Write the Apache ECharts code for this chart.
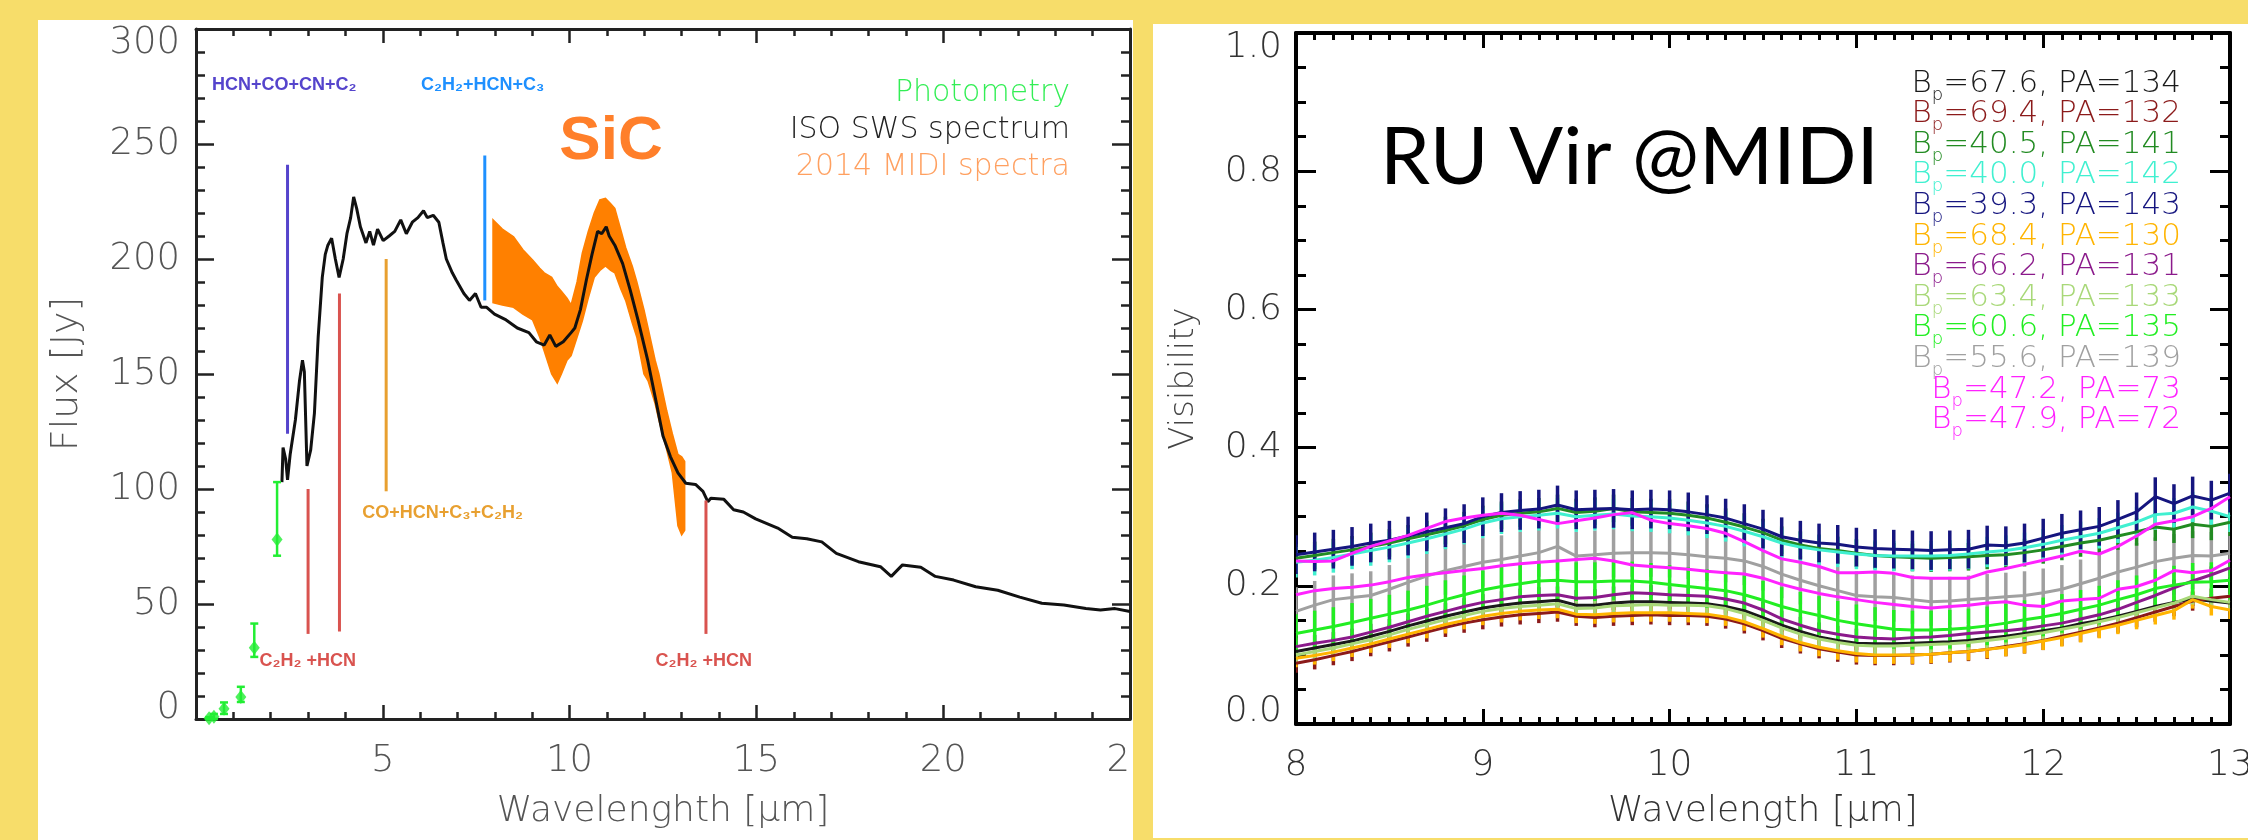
<!DOCTYPE html>
<html>
<head>
<meta charset="utf-8">
<script src="https://cdn.jsdelivr.net/npm/echarts@6/dist/echarts.min.js"></script>
<style>
  html, body { margin: 0; padding: 0; width: 2248px; height: 840px; background: #f7dd6a; overflow: hidden; }
  .panel { position: absolute; background: #fff; overflow: hidden; }
  #left { left: 38px; top: 20px; width: 1095px; height: 820px; }
  #right { left: 1153px; top: 24px; width: 1095px; height: 814px; }
  .chart { position: absolute; left: 0; top: 0; width: 1095px; height: 820px; }
</style>
</head>
<body>
<div class="panel" id="left"><div class="chart" id="leftChart"></div></div>
<div class="panel" id="right"><div class="chart" id="rightChart"></div></div>
<script>
// ---------- left panel: SED ----------
const isoWave = [2.30, 2.33, 2.40, 2.45, 2.52, 2.66, 2.77, 2.85, 2.90, 2.97, 3.07, 3.17, 3.27, 3.38, 3.46, 3.53, 3.63, 3.73, 3.83, 3.94,
  4.04, 4.14, 4.22, 4.30, 4.40, 4.55, 4.65, 4.75, 4.86, 5.01, 5.17, 5.32, 5.48, 5.63, 5.79, 5.94, 6.09, 6.19, 6.35, 6.50,
  6.61, 6.70, 6.86, 6.96, 7.17, 7.32, 7.48, 7.63, 7.78, 7.99, 8.30, 8.60, 8.91, 9.11, 9.32, 9.47, 9.63, 9.83, 10.04, 10.14,
  10.29, 10.45, 10.60, 10.75, 10.86, 10.98, 11.06, 11.21, 11.42, 11.63, 11.83, 12.09, 12.29, 12.50, 12.70, 12.90, 13.11, 13.37, 13.57, 13.70,
  13.78, 14.13, 14.39, 14.65, 14.98, 15.57, 15.96, 16.35, 16.75, 17.14, 17.73, 18.32, 18.61, 18.91, 19.40, 19.79, 20.28, 20.87, 21.46, 22.05,
  22.64, 23.23, 23.82, 24.21, 24.60, 25.00];
const isoFlux = [103, 118, 113, 104, 115, 130, 147, 156, 151, 110, 117, 133, 166, 192, 202, 206, 209, 200, 192, 200,
  211, 218, 227, 222, 214, 207, 212, 206, 213, 208, 210, 212, 217, 211, 216, 218, 221, 218, 219, 216,
  207, 200, 194, 191, 185, 182, 185, 179, 179, 176, 173.5, 170, 168, 164, 162.6, 167, 162, 164, 168, 170,
  178, 191, 202, 212, 211, 214, 210, 206, 198, 186, 173.5, 156, 140, 123, 114, 107, 102.5, 102, 99, 94.5,
  96, 95.5, 91, 90, 87, 83, 79, 78.4, 77, 72, 68.4, 66.2, 62, 67, 66, 62, 60.4, 57.5, 56, 53,
  50.3, 49.6, 48, 47.4, 48, 46.7];

const midiWave = [7.95, 8.20, 8.50, 8.75, 9.01, 9.20, 9.32, 9.52, 9.67, 9.78, 9.93, 10.04, 10.20, 10.34, 10.50, 10.66, 10.81, 10.96,
  11.10, 11.21, 11.37, 11.50, 11.68, 11.80, 11.99, 12.10, 12.29, 12.39, 12.60, 12.75, 12.90, 13.00, 13.08];
const midiLow = [181, 180, 179, 176, 173.5, 166, 160, 150, 146, 150, 156, 158, 166, 173, 183, 192, 195, 197,
  195, 194, 187, 182, 172, 166, 150, 147, 137, 130, 117, 107, 84, 80, 82];
const midiHigh = [217, 213, 209.7, 204, 199.6, 196, 194, 192, 188, 186, 183, 180, 190, 202.5, 212, 220, 225.7, 226.4,
  224, 222, 212.7, 205, 196.8, 190, 178, 170, 156, 150, 134, 124, 115, 114, 112];

const photWave = [0.35, 0.48, 0.75, 1.20, 1.56, 2.17];
const photFlux = [0.3, 1.0, 4.5, 9.6, 31, 78];
const photLow = [0, 0, 2.2, 7.4, 27, 71];
const photHigh = [0.8, 2.2, 7.2, 14, 41.5, 103];

const markWave = [2.45, 3.00, 3.84, 5.09, 7.73, 13.65];
const markFrom = [124, 37, 38, 99, 182, 37];
const markTo = [241, 100, 185, 200, 245, 95];
const markColor = ['#5544cc', '#d9534f', '#d9534f', '#e8a030', '#1e90ff', '#d9534f'];

const noteText = ['HCN+CO+CN+C\u2082', 'C\u2082H\u2082+HCN+C\u2083', 'CO+HCN+C\u2083+C\u2082H\u2082', 'C\u2082H\u2082 +HCN', 'C\u2082H\u2082 +HCN'];
const noteWave = [0.43, 6.02, 4.45, 1.70, 12.30];
const noteFlux = [275.6, 275.6, 89.6, 25, 25];
const noteColor = ['#5544cc', '#1e90ff', '#e8a030', '#d9534f', '#d9534f'];

// ---------- right panel: visibilities ----------
const wave = [8.0, 8.1, 8.2, 8.3, 8.4, 8.5, 8.6, 8.7, 8.8, 8.9, 9.0, 9.1, 9.2, 9.3, 9.4, 9.5, 9.6, 9.7, 9.8, 9.9,
  10.0, 10.1, 10.2, 10.3, 10.4, 10.5, 10.6, 10.7, 10.8, 10.9, 11.0, 11.1, 11.2, 11.3, 11.4, 11.5, 11.6, 11.7, 11.8, 11.9,
  12.0, 12.1, 12.2, 12.3, 12.4, 12.5, 12.6, 12.7, 12.8, 12.9, 13.0];

const v676 = [.105, .110, .115, .120, .127, .134, .142, .149, .156, .162, .168, .172, .175, .177, .179, .172, .172, .175, .177, .177,
  .176, .175, .174, .170, .164, .154, .143, .134, .126, .121, .117, .116, .116, .117, .118, .119, .121, .124, .127, .131,
  .135, .139, .145, .150, .156, .163, .170, .176, .181, .178, .175];
const v694 = [.088, .093, .099, .105, .112, .119, .126, .133, .140, .146, .151, .155, .158, .160, .162, .156, .154, .156, .157, .158,
  .157, .157, .156, .152, .145, .135, .124, .116, .109, .104, .100, .099, .099, .100, .101, .103, .105, .108, .112, .116,
  .121, .127, .133, .139, .146, .154, .162, .170, .178, .182, .185];
const v405 = [.240, .244, .248, .252, .257, .262, .268, .274, .280, .287, .296, .302, .305, .307, .312, .306, .308, .312, .307, .306,
  .305, .302, .298, .292, .285, .277, .266, .259, .254, .251, .247, .244, .242, .241, .240, .241, .242, .244, .245, .248,
  .252, .257, .262, .266, .272, .278, .285, .282, .289, .286, .292];
const v400 = [.234, .237, .241, .246, .251, .256, .262, .268, .275, .282, .291, .297, .300, .302, .305, .300, .302, .304, .301, .300,
  .298, .295, .291, .286, .279, .271, .262, .256, .252, .249, .246, .244, .243, .243, .243, .244, .246, .249, .251, .255,
  .260, .266, .271, .276, .284, .292, .303, .305, .314, .308, .300];
const v393 = [.245, .249, .253, .257, .262, .266, .272, .278, .284, .290, .300, .306, .309, .311, .317, .310, .311, .312, .310, .311,
  .310, .307, .303, .298, .290, .282, .271, .266, .262, .260, .256, .254, .253, .252, .251, .252, .253, .259, .258, .262,
  .269, .276, .281, .286, .296, .307, .329, .319, .330, .324, .334];
const v684 = [.095, .099, .104, .110, .116, .123, .130, .137, .144, .150, .156, .160, .163, .165, .166, .159, .158, .160, .161, .161,
  .161, .160, .159, .155, .148, .138, .127, .118, .111, .106, .102, .100, .100, .100, .101, .103, .105, .108, .111, .115,
  .120, .125, .131, .137, .143, .150, .157, .164, .180, .170, .165];
const v662 = [.112, .117, .121, .126, .133, .140, .148, .156, .163, .170, .176, .180, .184, .186, .187, .182, .183, .187, .190, .189,
  .187, .186, .185, .181, .175, .165, .152, .143, .135, .130, .126, .124, .123, .125, .126, .128, .131, .133, .135, .138,
  .142, .146, .152, .158, .166, .176, .186, .197, .207, .216, .226];
const v634 = [.100, .105, .110, .116, .122, .129, .137, .144, .151, .157, .163, .167, .170, .172, .174, .167, .168, .171, .172, .173,
  .172, .172, .171, .167, .160, .150, .139, .130, .123, .118, .114, .113, .113, .114, .115, .116, .118, .121, .124, .128,
  .132, .137, .142, .148, .154, .161, .168, .175, .185, .180, .176];
const v606 = [.131, .136, .141, .147, .153, .159, .165, .172, .180, .187, .194, .199, .203, .207, .208, .206, .206, .207, .207, .205,
  .202, .199, .196, .193, .187, .179, .170, .163, .157, .150, .145, .141, .137, .136, .136, .137, .139, .142, .146, .151,
  .155, .160, .166, .172, .180, .187, .196, .201, .205, .206, .208];
const v556 = [.163, .172, .180, .183, .186, .195, .205, .214, .222, .228, .234, .238, .243, .248, .257, .243, .245, .247, .248, .248,
  .247, .245, .242, .240, .236, .228, .217, .208, .200, .193, .186, .184, .183, .180, .177, .178, .180, .182, .184, .186,
  .190, .195, .203, .211, .220, .227, .235, .240, .244, .243, .247];
const v472 = [.236, .235, .236, .247, .257, .265, .273, .283, .293, .298, .302, .305, .302, .296, .290, .294, .298, .303, .306, .295,
  .290, .287, .283, .276, .264, .251, .239, .234, .228, .219, .219, .220, .218, .212, .211, .211, .211, .220, .225, .231,
  .237, .243, .250, .246, .257, .272, .289, .294, .300, .312, .329];
const v479 = [.187, .193, .196, .198, .201, .206, .212, .216, .219, .222, .225, .229, .232, .234, .236, .238, .240, .236, .230, .228,
  .226, .224, .221, .219, .217, .211, .202, .195, .189, .184, .180, .176, .173, .170, .168, .170, .172, .175, .177, .172,
  .170, .178, .180, .182, .195, .199, .208, .222, .219, .222, .237];

const visSeries = [v676, v694, v405, v400, v393, v684, v662, v634, v606, v556, v472, v479];
const visErr = [0.010, 0.014, 0.020, 0.022, 0.028, 0.013, 0.012, 0.012, 0.028, 0.035, 0, 0];
const visColor = ['#1a1a1a', '#8b1a1a', '#228b22', '#40f0d0', '#15157f', '#ffb400', '#8b1a8b', '#a8d878', '#22ee22', '#a0a0a0', '#ff22ff', '#ff22ff'];
const legendBp = ['67.6', '69.4', '40.5', '40.0', '39.3', '68.4', '66.2', '63.4', '60.6', '55.6', '47.2', '47.9'];
const legendPA = ['134', '132', '141', '142', '143', '130', '131', '133', '135', '139', '73', '72'];
// drawing order: the grey set sits under the coloured ones, magenta on top
const drawOrder = [9, 0, 1, 2, 3, 4, 5, 6, 7, 8, 10, 11];

const THIN = '"DejaVu Sans", sans-serif';
const BOLD = '"Liberation Sans", Arial, sans-serif';

function frameAxis(o) {
  return {
    type: 'value', min: o.min, max: o.max, interval: o.interval, position: o.position,
    axisLine: { show: true, onZero: false, lineStyle: { color: o.color, width: o.lineWidth } },
    axisTick: { show: true, inside: true, length: o.major, lineStyle: { color: o.color, width: o.tickWidth } },
    minorTick: { show: true, splitNumber: o.split, length: o.minor, lineStyle: { color: o.color, width: o.tickWidth } },
    splitLine: { show: false },
    minorSplitLine: { show: false },
    axisLabel: o.label || { show: false },
    name: o.name || '',
    nameLocation: 'middle',
    nameGap: o.nameGap || 0,
    nameRotate: o.nameRotate,
    nameMoveOverlap: false,
    nameTextStyle: o.nameStyle
  };
}

function labelRich(size, color, top, bottom) {
  const base = { fontSize: size, color: color, fontFamily: THIN, fontWeight: 200 };
  return {
    n: base,
    hi: Object.assign({}, base, { padding: [top, 0, 0, 0] }),
    lo: Object.assign({}, base, { padding: [0, 0, bottom, 0] })
  };
}

// ---- left chart ----
const leftChart = echarts.init(document.getElementById('leftChart'));
const lc = '#222';
leftChart.setOption({
  animation: false,
  grid: { left: 158, top: 9, width: 934, height: 690, containLabel: false, outerBoundsMode: 'none' },
  xAxis: [
    frameAxis({ min: 0, max: 25, interval: 5, position: 'bottom', color: lc, lineWidth: 3, tickWidth: 2.5, major: 14, minor: 7, split: 5,
      label: { showMinLabel: false, margin: 24, fontSize: 37, color: '#555', fontFamily: THIN, fontWeight: 200 },
      name: 'Wavelenghth [\u03bcm]', nameGap: 75,
      nameStyle: { fontSize: 36, color: '#555', fontFamily: THIN, fontWeight: 200 } }),
    frameAxis({ min: 0, max: 25, interval: 5, position: 'top', color: lc, lineWidth: 3, tickWidth: 2.5, major: 14, minor: 7, split: 5 })
  ],
  yAxis: [
    frameAxis({ min: 0, max: 300, interval: 50, position: 'left', color: lc, lineWidth: 3, tickWidth: 2.5, major: 18, minor: 9, split: 5,
      label: { margin: 16, formatter: v => v === 300 ? '{hi|300}' : (v === 0 ? '{lo|0}' : '{n|' + v + '}'),
        rich: labelRich(37, '#555', 28, 22) },
      name: 'Flux [Jy]', nameGap: 110,
      nameStyle: { fontSize: 38, color: '#555', fontFamily: THIN, fontWeight: 200 } }),
    frameAxis({ min: 0, max: 300, interval: 50, position: 'right', color: lc, lineWidth: 3, tickWidth: 2.5, major: 18, minor: 9, split: 5 })
  ],
  graphic: [
    { type: 'text', x: 1032, y: 73, style: { text: 'Photometry', fill: '#33ee55', fontSize: 30, fontFamily: THIN, fontWeight: 200, align: 'right', verticalAlign: 'middle' } },
    { type: 'text', x: 1032, y: 110, style: { text: 'ISO SWS spectrum', fill: '#222', fontSize: 30, fontFamily: THIN, fontWeight: 200, align: 'right', verticalAlign: 'middle' } },
    { type: 'text', x: 1032, y: 147, style: { text: '2014 MIDI spectra', fill: '#ffa060', fontSize: 30, fontFamily: THIN, fontWeight: 200, align: 'right', verticalAlign: 'middle' } },
    { type: 'text', x: 573, y: 122, style: { text: 'SiC', fill: '#ff7f2a', fontSize: 62, fontFamily: BOLD, fontWeight: 'bold', align: 'center', verticalAlign: 'middle' } }
  ],
  series: [
    {
      type: 'custom', name: 'MIDI', xAxisIndex: 0, yAxisIndex: 0, clip: true, z: 2,
      data: midiWave.map((w, i) => [w, midiLow[i], midiHigh[i]]),
      encode: { x: 0, y: [1, 2] },
      renderItem: (p, api) => {
        if (p.dataIndex !== 0) return null;
        const pts = [];
        midiWave.forEach((w, i) => pts.push(api.coord([w, midiHigh[i]])));
        for (let i = midiWave.length - 1; i >= 0; i--) pts.push(api.coord([midiWave[i], midiLow[i]]));
        return { type: 'polygon', shape: { points: pts }, style: { fill: '#ff8000', stroke: '#ff8000', lineWidth: 1.5 } };
      }
    },
    {
      type: 'line', name: 'ISO SWS', xAxisIndex: 0, yAxisIndex: 0, z: 3,
      data: isoWave.map((w, i) => [w, isoFlux[i]]),
      showSymbol: false, symbol: 'none',
      lineStyle: { color: '#111', width: 3 }
    },
    {
      type: 'custom', name: 'marks', xAxisIndex: 0, yAxisIndex: 0, z: 4,
      data: markWave.map((w, i) => [w, markFrom[i], markTo[i]]),
      encode: { x: 0, y: [1, 2] },
      renderItem: (p, api) => {
        const a = api.coord([api.value(0), api.value(1)]);
        const b = api.coord([api.value(0), api.value(2)]);
        return { type: 'line', shape: { x1: a[0], y1: a[1], x2: b[0], y2: b[1] }, style: { stroke: markColor[p.dataIndex], lineWidth: 3 } };
      }
    },
    {
      type: 'custom', name: 'notes', xAxisIndex: 0, yAxisIndex: 0, z: 4,
      data: noteWave.map((w, i) => [w, noteFlux[i]]),
      encode: { x: 0, y: 1 },
      renderItem: (p, api) => {
        const c = api.coord([api.value(0), api.value(1)]);
        return { type: 'text', x: c[0], y: c[1], style: { text: noteText[p.dataIndex], fill: noteColor[p.dataIndex],
          fontSize: 18, fontWeight: 'bold', fontFamily: BOLD, align: 'left', verticalAlign: 'middle' } };
      }
    },
    {
      type: 'custom', name: 'photErr', xAxisIndex: 0, yAxisIndex: 0, z: 5, clip: false,
      data: photWave.map((w, i) => [w, photLow[i], photHigh[i]]),
      encode: { x: 0, y: [1, 2] },
      renderItem: (p, api) => {
        const x = api.value(0);
        const lo = api.coord([x, api.value(1)]);
        const hi = api.coord([x, api.value(2)]);
        const st = { stroke: '#22ee33', lineWidth: 2.5 };
        return { type: 'group', children: [
          { type: 'line', shape: { x1: lo[0], y1: lo[1], x2: hi[0], y2: hi[1] }, style: st },
          { type: 'line', shape: { x1: lo[0] - 4, y1: lo[1], x2: lo[0] + 4, y2: lo[1] }, style: st },
          { type: 'line', shape: { x1: hi[0] - 4, y1: hi[1], x2: hi[0] + 4, y2: hi[1] }, style: st }
        ] };
      }
    },
    {
      type: 'scatter', name: 'Photometry', xAxisIndex: 0, yAxisIndex: 0, z: 6, clip: false,
      data: photWave.map((w, i) => [w, photFlux[i]]),
      symbol: 'diamond', symbolSize: [11, 14],
      itemStyle: { color: '#22ee33' }
    }
  ]
});

// ---- right chart ----
const rightChart = echarts.init(document.getElementById('rightChart'));
const rc = '#000';
const visSeriesOpts = [];
drawOrder.forEach((k) => {
  const vals = visSeries[k];
  if (visErr[k] > 0) {
    visSeriesOpts.push({
      type: 'custom', xAxisIndex: 0, yAxisIndex: 0, clip: true,
      data: wave.map((w, i) => [w, vals[i] - visErr[k], vals[i] + visErr[k]]),
      encode: { x: 0, y: [1, 2] },
      renderItem: (p, api) => {
        const x = api.value(0);
        const lo = api.coord([x, api.value(1)]);
        const hi = api.coord([x, api.value(2)]);
        return { type: 'line', shape: { x1: lo[0], y1: lo[1], x2: hi[0], y2: hi[1] }, style: { stroke: visColor[k], lineWidth: 3.5 } };
      }
    });
  }
  visSeriesOpts.push({
    type: 'line', xAxisIndex: 0, yAxisIndex: 0,
    data: wave.map((w, i) => [w, vals[i]]),
    showSymbol: false, symbol: 'none',
    lineStyle: { color: visColor[k], width: 3 }
  });
});

const legendGraphics = legendBp.map((bp, i) => {
  const col = visColor[i];
  return {
    type: 'text', x: 1028, y: 44 + i * 30.6,
    style: {
      text: '{b|B}{s|p}{b|=' + bp + ', PA=' + legendPA[i] + '}',
      align: 'right', verticalAlign: 'top',
      rich: {
        b: { fill: col, fontSize: 31, fontFamily: THIN, fontWeight: 200, lineHeight: 31, verticalAlign: 'top' },
        s: { fill: col, fontSize: 18, fontFamily: THIN, fontWeight: 200, lineHeight: 18, padding: [18, 0, 0, 0], verticalAlign: 'top' }
      }
    }
  };
});

rightChart.setOption({
  animation: false,
  grid: { left: 143, top: 9, width: 934, height: 691, containLabel: false, outerBoundsMode: 'none' },
  xAxis: [
    frameAxis({ min: 8, max: 13, interval: 1, position: 'bottom', color: rc, lineWidth: 4, tickWidth: 3, major: 15, minor: 7, split: 10,
      label: { margin: 24, fontSize: 36, color: '#333', fontFamily: THIN, fontWeight: 200 },
      name: 'Wavelength [\u03bcm]', nameGap: 70,
      nameStyle: { fontSize: 36, color: '#333', fontFamily: THIN, fontWeight: 200 } }),
    frameAxis({ min: 8, max: 13, interval: 1, position: 'top', color: rc, lineWidth: 4, tickWidth: 3, major: 15, minor: 7, split: 10 })
  ],
  yAxis: [
    frameAxis({ min: 0, max: 1, interval: 0.2, position: 'left', color: rc, lineWidth: 4, tickWidth: 3, major: 20, minor: 10, split: 4,
      label: { margin: 14, formatter: v => {
          const t = v.toFixed(1);
          return v >= 0.999 ? '{hi|' + t + '}' : (v <= 0.001 ? '{lo|' + t + '}' : '{n|' + t + '}');
        },
        rich: labelRich(36, '#333', 30, 24) },
      name: 'Visibility', nameGap: 95,
      nameStyle: { fontSize: 34, color: '#444', fontFamily: THIN, fontWeight: 200 } }),
    frameAxis({ min: 0, max: 1, interval: 0.2, position: 'right', color: rc, lineWidth: 4, tickWidth: 3, major: 20, minor: 10, split: 4 })
  ],
  graphic: [
    { type: 'text', x: 227, y: 134, style: { text: 'RU Vir @MIDI', fill: '#000', fontSize: 80, fontWeight: 400, fontFamily: 'Lato, "Liberation Sans", sans-serif', align: 'left', verticalAlign: 'middle' } }
  ].concat(legendGraphics),
  series: visSeriesOpts
});
</script>
</body>
</html>
